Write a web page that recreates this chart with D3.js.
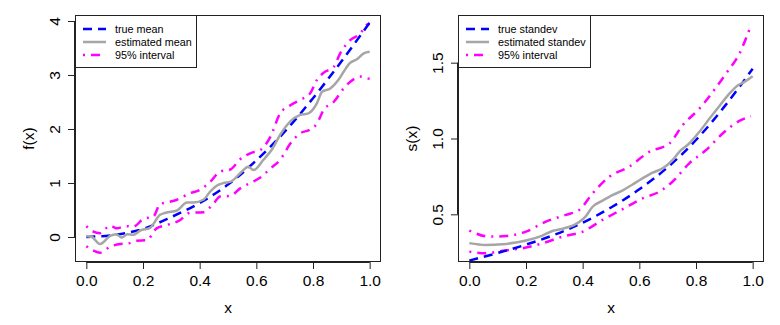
<!DOCTYPE html>
<html><head><meta charset="utf-8">
<script src="https://cdn.jsdelivr.net/npm/d3@7"></script>
<style>body{margin:0;background:#fff}svg{display:block}text{font-family:"Liberation Sans",Arial,sans-serif;fill:#000}</style>
</head><body><svg id="c" width="780" height="325"></svg>
<script>
// ---- Left panel data: mean ----
const meanTrueX = [0,0.1,0.2,0.3,0.4,0.5,0.6,0.7,0.8,0.9,1.0];
const meanTrueY = [0,0.04,0.15,0.37,0.63,0.97,1.42,1.95,2.57,3.25,3.97];
const meanEstX = [0,0.02,0.048,0.084,0.105,0.125,0.145,0.166,0.19,0.225,0.26,0.28,0.32,0.355,0.378,0.413,0.437,0.46,0.484,0.508,0.543,0.572,0.59,0.625,0.655,0.684,0.72,0.755,0.784,0.814,0.832,0.861,0.89,0.908,0.93,0.955,0.979,1.0];
const meanEstY = [0.02,0.0,-0.13,0.02,0.05,-0.01,0.05,0.04,0.12,0.17,0.41,0.45,0.49,0.64,0.64,0.69,0.84,0.95,1.0,1.02,1.18,1.3,1.24,1.43,1.62,1.89,2.14,2.26,2.29,2.48,2.69,2.75,2.91,3.06,3.22,3.29,3.4,3.43];
const meanUpX = [0,0.025,0.048,0.084,0.107,0.14,0.166,0.2,0.237,0.26,0.284,0.32,0.366,0.4,0.437,0.472,0.508,0.543,0.578,0.614,0.65,0.684,0.72,0.755,0.79,0.814,0.837,0.873,0.896,0.93,0.967,0.99,1.0];
const meanUpY = [0.2,0.1,0.07,0.21,0.16,0.2,0.19,0.33,0.38,0.61,0.64,0.69,0.81,0.87,1.02,1.21,1.25,1.44,1.55,1.61,1.86,2.29,2.44,2.54,2.66,2.91,3.04,3.15,3.4,3.64,3.77,3.93,3.95];
const meanLoX = [0,0.025,0.048,0.084,0.12,0.148,0.178,0.213,0.248,0.284,0.33,0.366,0.413,0.449,0.472,0.508,0.543,0.578,0.614,0.65,0.684,0.72,0.755,0.79,0.814,0.837,0.873,0.908,0.943,0.967,0.99,1.0];
const meanLoY = [-0.17,-0.25,-0.29,-0.18,-0.13,-0.12,-0.07,-0.06,0.16,0.22,0.31,0.45,0.46,0.62,0.75,0.76,0.9,1.0,1.1,1.27,1.43,1.73,1.92,1.99,2.1,2.35,2.5,2.75,2.92,2.97,2.94,2.93];

// ---- Right panel data: standard deviation ----
const sdTrueX = [0,0.1,0.2,0.3,0.4,0.5,0.6,0.7,0.8,0.9,1.0];
const sdTrueY = [0.195,0.245,0.3,0.365,0.445,0.545,0.665,0.81,0.99,1.21,1.46];
const sdEstX = [0,0.058,0.117,0.2,0.258,0.293,0.329,0.388,0.41,0.435,0.47,0.505,0.54,0.576,0.611,0.647,0.682,0.717,0.741,0.776,0.812,0.847,0.882,0.918,0.947,0.971,1.0];
const sdEstY = [0.31,0.298,0.303,0.327,0.36,0.39,0.405,0.45,0.485,0.55,0.59,0.627,0.656,0.697,0.737,0.775,0.803,0.857,0.912,0.967,1.044,1.13,1.213,1.296,1.35,1.373,1.41];
const sdUpX = [0,0.07,0.128,0.2,0.27,0.34,0.388,0.435,0.494,0.564,0.635,0.706,0.753,0.812,0.859,0.906,0.953,0.994];
const sdUpY = [0.393,0.353,0.357,0.386,0.452,0.496,0.529,0.638,0.748,0.814,0.912,0.967,1.088,1.197,1.307,1.428,1.559,1.746];
const sdLoX = [0,0.058,0.117,0.187,0.258,0.329,0.4,0.47,0.54,0.611,0.67,0.717,0.776,0.835,0.894,0.953,0.994];
const sdLoY = [0.254,0.243,0.26,0.276,0.309,0.353,0.386,0.463,0.533,0.605,0.649,0.715,0.836,0.923,1.033,1.116,1.147];

const xTicks = [0,0.2,0.4,0.6,0.8,1.0];
const meanYTicks = [0,1,2,3,4];
const sdYTicks = [0.5,1.0,1.5];
const meanLegend = ["true mean","estimated mean","95% interval"];
const sdLegend = ["true standev","estimated standev","95% interval"];

const zip = (xs, ys) => xs.map((x, i) => [x, ys[i]]);
const styles = {
  true: {stroke:"#0000FF", dash:"9,6", w:2.5},
  est:  {stroke:"#A6A6A6", dash:null, w:2.5},
  ci:   {stroke:"#FF00FF", dash:"2,6,9,6", w:2.5}
};

const svg = d3.select("#c");
const fmt1 = d3.format(".1f");

function panel(id, box, yDomain, yTicks, yFmt, ylab, series, legend, legW) {
  const x = d3.scaleLinear().domain([-0.04,1.04]).range([box.x0, box.x1]);
  const y = d3.scaleLinear().domain(yDomain).range([box.y1, box.y0]);
  const g = svg.append("g");
  g.append("clipPath").attr("id", id).append("rect")
    .attr("x", box.x0).attr("y", box.y0).attr("width", box.x1-box.x0).attr("height", box.y1-box.y0);
  const line = d3.line().x(d => x(d[0])).y(d => y(d[1])).curve(d3.curveMonotoneX);
  const lg = g.append("g").attr("clip-path", `url(#${id})`);
  series.forEach(s => {
    const st = styles[s.kind];
    lg.append("path").attr("d", line(s.data)).attr("fill","none")
      .attr("stroke", st.stroke).attr("stroke-width", st.w)
      .attr("stroke-dasharray", st.dash).attr("stroke-linejoin","round");
  });
  // frame
  g.append("rect").attr("x", box.x0+0.5).attr("y", box.y0+0.5)
    .attr("width", box.x1-box.x0-1).attr("height", box.y1-box.y0-1)
    .attr("fill","none").attr("stroke","#222").attr("stroke-width",1);
  // x axis
  const xa = g.append("g").attr("transform", `translate(0,${box.y1})`)
    .call(d3.axisBottom(x).tickValues(xTicks).tickFormat(fmt1).tickSize(7).tickPadding(6));
  xa.select(".domain").attr("d", `M${x(0)},0.5H${x(1)}`).attr("stroke","#222");
  xa.selectAll(".tick line").attr("stroke","#222");
  xa.selectAll("text").style("font-size","15.5px").style("font-family","Liberation Sans, Arial, sans-serif").attr("fill","#000");
  // y axis
  const ya = g.append("g").attr("transform", `translate(${box.x0},0)`)
    .call(d3.axisLeft(y).tickValues(yTicks).tickFormat(yFmt).tickSize(7).tickPadding(0));
  ya.select(".domain").attr("d", `M-0.5,${y(yTicks[0])}V${y(yTicks[yTicks.length-1])}`).attr("stroke","#222");
  ya.selectAll(".tick line").attr("stroke","#222");
  ya.selectAll(".tick text").attr("x", null).attr("dy", null)
    .attr("transform", "translate(-21,0) rotate(-90)").attr("text-anchor","middle")
    .attr("dominant-baseline","central")
    .style("font-size","15.5px").style("font-family","Liberation Sans, Arial, sans-serif").attr("fill","#000");
  // axis titles
  g.append("text").attr("x", (x(0)+x(1))/2).attr("y", 313).attr("text-anchor","middle")
    .style("font-size","15.5px").text("x");
  g.append("text").attr("transform", `translate(${box.x0-47},${(box.y0+box.y1)/2}) rotate(-90)`)
    .attr("text-anchor","middle").attr("dominant-baseline","central")
    .style("font-size","15.5px").text(ylab);
  // legend
  const L = g.append("g");
  L.append("rect").attr("x", box.x0+0.5).attr("y", box.y0+0.5).attr("width", legW).attr("height", 52)
    .attr("fill","#fff").attr("stroke","#222").attr("stroke-width",1);
  const kinds = ["true","est","ci"];
  legend.forEach((t, i) => {
    const yy = box.y0 + 14 + i*13;
    const st = styles[kinds[i]];
    L.append("line").attr("x1", box.x0+8).attr("x2", box.x0+31).attr("y1", yy).attr("y2", yy)
      .attr("stroke", st.stroke).attr("stroke-width", st.w).attr("stroke-dasharray", st.dash);
    L.append("text").attr("x", box.x0+40).attr("y", yy).attr("dominant-baseline","central")
      .style("font-size","10.8px").text(t);
  });
}

panel("clipL", {x0:75, x1:381, y0:15, y1:262}, [-0.463, 4.111], meanYTicks, d3.format("d"), "f(x)",
  [{kind:"ci", data: zip(meanUpX, meanUpY)}, {kind:"ci", data: zip(meanLoX, meanLoY)},
   {kind:"true", data: zip(meanTrueX, meanTrueY)}, {kind:"est", data: zip(meanEstX, meanEstY)}],
  meanLegend, 121);
panel("clipR", {x0:458, x1:764, y0:15, y1:262}, [0.1856, 1.8144], sdYTicks, fmt1, "s(x)",
  [{kind:"ci", data: zip(sdUpX, sdUpY)}, {kind:"ci", data: zip(sdLoX, sdLoY)},
   {kind:"true", data: zip(sdTrueX, sdTrueY)}, {kind:"est", data: zip(sdEstX, sdEstY)}],
  sdLegend, 132);
</script></body></html>
